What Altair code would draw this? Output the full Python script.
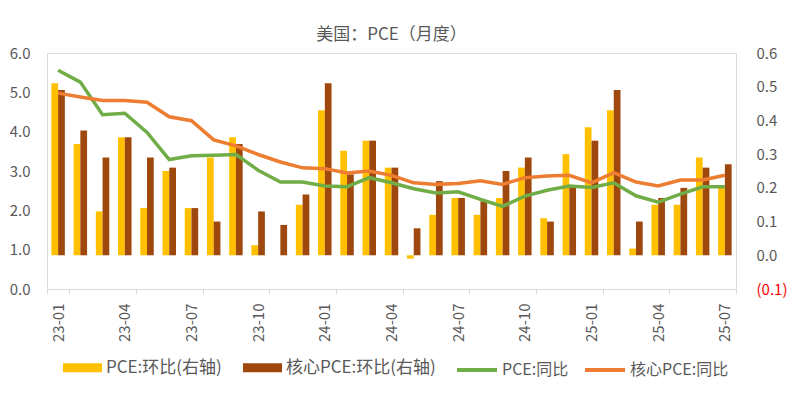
import altair as alt
import pandas as pd

months = ["23-01", "23-02", "23-03", "23-04", "23-05", "23-06", "23-07", "23-08", "23-09", "23-10", "23-11", "23-12",
          "24-01", "24-02", "24-03", "24-04", "24-05", "24-06", "24-07", "24-08", "24-09", "24-10", "24-11", "24-12",
          "25-01", "25-02", "25-03", "25-04", "25-05", "25-06", "25-07"]

pce_mom = [0.51, 0.33, 0.13, 0.35, 0.14, 0.25, 0.14, 0.29, 0.35, 0.03, 0.00, 0.15,
           0.43, 0.31, 0.34, 0.26, -0.01, 0.12, 0.17, 0.12, 0.17, 0.26, 0.11, 0.30,
           0.38, 0.43, 0.02, 0.15, 0.15, 0.29, 0.20]
core_mom = [0.49, 0.37, 0.29, 0.35, 0.29, 0.26, 0.14, 0.10, 0.33, 0.13, 0.09, 0.18,
            0.51, 0.24, 0.34, 0.26, 0.08, 0.22, 0.17, 0.16, 0.25, 0.29, 0.10, 0.20,
            0.34, 0.49, 0.10, 0.17, 0.20, 0.26, 0.27]
pce_yoy = [5.56, 5.26, 4.43, 4.47, 3.98, 3.29, 3.39, 3.40, 3.42, 3.02, 2.72, 2.72,
           2.62, 2.60, 2.83, 2.70, 2.55, 2.44, 2.47, 2.28, 2.10, 2.36, 2.51, 2.62,
           2.58, 2.70, 2.37, 2.21, 2.41, 2.60, 2.60]
core_yoy = [4.98, 4.88, 4.79, 4.79, 4.75, 4.38, 4.28, 3.79, 3.64, 3.42, 3.23, 3.08,
            3.06, 2.95, 3.00, 2.89, 2.70, 2.66, 2.68, 2.75, 2.66, 2.83, 2.87, 2.89,
            2.70, 2.96, 2.72, 2.62, 2.77, 2.77, 2.89]

bar_names = ["PCE:环比(右轴)", "核心PCE:环比(右轴)"]
line_names = ["PCE:同比", "核心PCE:同比"]
bar_colors = ["#FFC000", "#9E480E"]
line_colors = ["#70AD47", "#ED7D31"]
label_months = months[::3]
left_ticks = [0, 1, 2, 3, 4, 5, 6]
right_ticks = [-0.1, 0.0, 0.1, 0.2, 0.3, 0.4, 0.5, 0.6]

bars_df = pd.DataFrame({
    "month": months * 2,
    "series": [bar_names[0]] * len(months) + [bar_names[1]] * len(months),
    "value": pce_mom + core_mom,
})
lines_df = pd.DataFrame({
    "month": months * 2,
    "series": [line_names[0]] * len(months) + [line_names[1]] * len(months),
    "value": pce_yoy + core_yoy,
})

FONT = "Noto Sans CJK SC"
GREY = "#595959"

x_enc = alt.X(
    "month:N", sort=months, title=None,
    scale=alt.Scale(paddingInner=0, paddingOuter=0),
    axis=alt.Axis(values=label_months, labelAngle=-90, labelColor=GREY, labelFontSize=15,
                  labelFont=FONT, domainColor="#D9D9D9", tickColor="#D9D9D9", tickSize=5,
                  tickBand="extent", labelPadding=9, labelBaseline="middle", grid=False),
)

bars = alt.Chart(bars_df).mark_bar().encode(
    x=x_enc,
    xOffset=alt.XOffset("series:N", sort=bar_names,
                        scale=alt.Scale(paddingInner=0, paddingOuter=0.65)),
    y=alt.Y("value:Q", title=None,
            scale=alt.Scale(domain=[-0.1, 0.6], nice=False, zero=False),
            axis=alt.Axis(orient="right", values=right_ticks, grid=False, domain=False, ticks=False,
                          labelPadding=20, labelFontSize=15, labelFont=FONT,
                          labelExpr="datum.value < -0.001 ? '(' + format(-datum.value, '.1f') + ')' : format(datum.value, '.1f')",
                          labelColor={"condition": {"test": "datum.value < -0.001", "value": "#FF0000"},
                                      "value": GREY})),
    color=alt.Color("series:N", sort=bar_names,
                    scale=alt.Scale(domain=bar_names, range=bar_colors),
                    legend=alt.Legend(title=None, orient="none", legendX=16, legendY=295,
                                      direction="horizontal",
                                      symbolType="M-1,-0.23H1V0.23H-1Z", symbolSize=1521,
                                      symbolStrokeWidth=0,
                                      labelFont=FONT, labelFontSize=17, labelColor=GREY,
                                      labelOffset=4, columnPadding=21, labelLimit=300)),
)

lines = alt.Chart(lines_df).mark_line(strokeWidth=3.5).encode(
    x=alt.X("month:N", sort=months),
    y=alt.Y("value:Q", title=None,
            scale=alt.Scale(domain=[0, 6], nice=False),
            axis=alt.Axis(orient="left", values=left_ticks, format=".1f", grid=False, domain=False,
                          ticks=False, labelPadding=17, labelFontSize=15, labelFont=FONT,
                          labelColor=GREY)),
    color=alt.Color("series:N", sort=line_names,
                    scale=alt.Scale(domain=line_names, range=line_colors),
                    legend=alt.Legend(title=None, orient="none", legendX=408, legendY=295,
                                      direction="horizontal",
                                      symbolType="stroke", symbolSize=1600, symbolStrokeWidth=4,
                                      labelFont=FONT, labelFontSize=16, labelColor=GREY,
                                      labelOffset=3, columnPadding=8, labelLimit=300)),
)

chart = alt.layer(bars, lines).resolve_scale(
    y="independent", color="independent"
).properties(
    width=689, height=236,
    autosize=alt.AutoSizeParams(type="none"),
    padding={"left": 39, "top": 45, "right": 51, "bottom": 95},
    title=alt.Title("美国：PCE（月度）", fontSize=17, font=FONT, color=GREY,
                    fontWeight="normal", anchor="middle", offset=2),
).configure_view(stroke=None).configure(background="white")

chart.save("out.html", embed_options={"renderer": "svg", "actions": False})
